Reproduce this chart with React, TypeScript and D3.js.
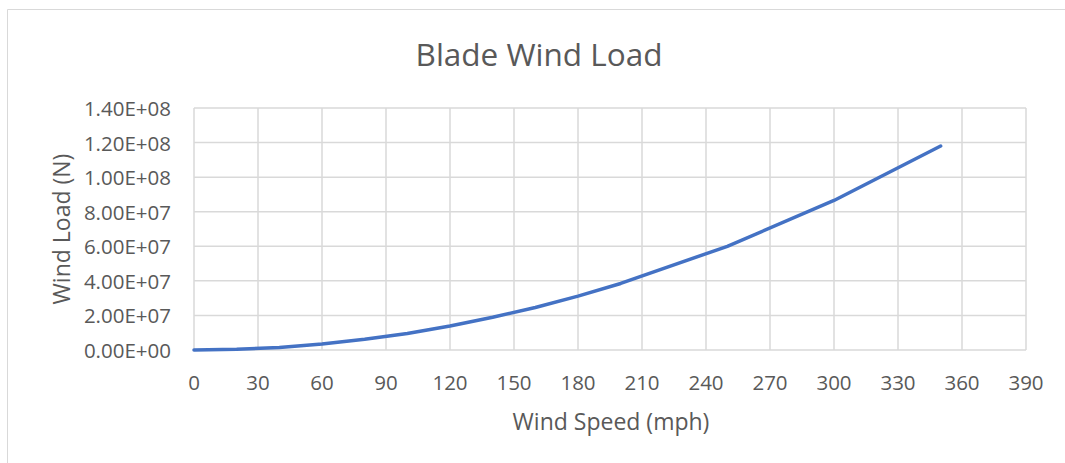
import React from "react";
import * as d3 from "d3";

const windSpeeds = [0, 20, 40, 60, 80, 100, 120, 140, 160, 180, 200, 250, 300, 350];
const windLoads = [0, 0.04e7, 0.15e7, 0.35e7, 0.62e7, 0.96e7, 1.39e7, 1.89e7, 2.46e7, 3.12e7, 3.85e7, 6.0e7, 8.65e7, 1.18e8];
const xTicks = [0, 30, 60, 90, 120, 150, 180, 210, 240, 270, 300, 330, 360, 390];
const yTicks = [0, 2e7, 4e7, 6e7, 8e7, 1e8, 1.2e8, 1.4e8];

const W = 1065;
const H = 463;
const plot = { left: 194, right: 1026, top: 108, bottom: 350 };
const font = "'Open Sans', sans-serif";
const textColor = "#595959";
const gridColor = "#d9d9d9";

function fmtExp(v: number): string {
  const s = v.toExponential(2).toUpperCase(); // e.g. 1.40E+8
  const m = s.match(/^([\d.]+)E([+-])(\d+)$/);
  if (!m) return s;
  return `${m[1]}E${m[2]}${m[3].padStart(2, "0")}`;
}

export default function App() {
  const x = d3.scaleLinear().domain([0, 390]).range([plot.left, plot.right]);
  const y = d3.scaleLinear().domain([0, 1.4e8]).range([plot.bottom, plot.top]);
  const pts = windSpeeds.map((s, i) => [s, windLoads[i]] as [number, number]);
  const line = d3
    .line<[number, number]>()
    .x((d) => x(d[0]))
    .y((d) => y(d[1]));

  return (
    <svg
      width={W}
      height={H}
      style={{ position: "absolute", left: 0, top: 0, background: "#fff" }}
    >
      <rect x={0} y={0} width={W} height={H} fill="#fff" />
      <path
        d={`M7.5,${H + 5} V9.5 H${W + 5}`}
        fill="none"
        stroke={gridColor}
        strokeWidth={1}
      />
      <text
        x={539}
        y={53}
        textAnchor="middle"
        dominantBaseline="central"
        fontFamily={font}
        fontSize={31.5}
        fill={textColor}
      >
        Blade Wind Load
      </text>
      {xTicks.map((t) => (
        <line
          key={"gx" + t}
          x1={x(t)}
          x2={x(t)}
          y1={plot.top}
          y2={plot.bottom}
          stroke={gridColor}
          strokeWidth={1.5}
        />
      ))}
      {yTicks.map((t) => (
        <line
          key={"gy" + t}
          x1={plot.left}
          x2={plot.right}
          y1={y(t)}
          y2={y(t)}
          stroke={gridColor}
          strokeWidth={1.5}
        />
      ))}
      {yTicks.map((t) => (
        <text
          key={"ty" + t}
          x={171}
          y={y(t)}
          textAnchor="end"
          dominantBaseline="central"
          fontFamily={font}
          fontSize={20.5}
          fill={textColor}
        >
          {fmtExp(t)}
        </text>
      ))}
      {xTicks.map((t) => (
        <text
          key={"tx" + t}
          x={x(t)}
          y={382}
          textAnchor="middle"
          dominantBaseline="central"
          fontFamily={font}
          fontSize={20.5}
          fill={textColor}
        >
          {t}
        </text>
      ))}
      <path
        d={line(pts) || ""}
        fill="none"
        stroke="#4472C4"
        strokeWidth={3.5}
        strokeLinejoin="round"
        strokeLinecap="round"
      />
      <text
        x={611}
        y={421}
        textAnchor="middle"
        dominantBaseline="central"
        fontFamily={font}
        fontSize={23}
        fill={textColor}
      >
        Wind Speed (mph)
      </text>
      <text
        transform={`translate(61,229) rotate(-90)`}
        textAnchor="middle"
        dominantBaseline="central"
        fontFamily={font}
        fontSize={23}
        fill={textColor}
      >
        Wind Load (N)
      </text>
    </svg>
  );
}
